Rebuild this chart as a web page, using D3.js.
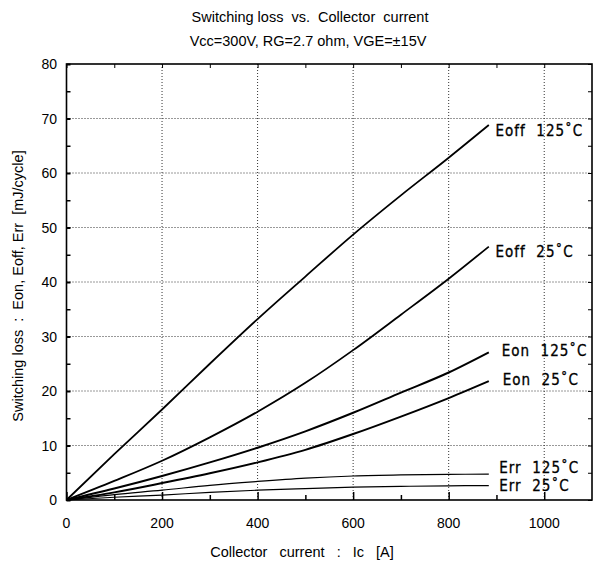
<!DOCTYPE html>
<html>
<head>
<meta charset="utf-8">
<script src="https://cdn.jsdelivr.net/npm/d3@7"></script>
<style>
  body { margin: 0; background: #fff; }
  svg { display: block; }
</style>
</head>
<body>
<svg id="chart" width="593" height="568"></svg>
<script>
// x values (collector current, A) shared by every curve
const current = [0, 100, 200, 300, 400, 500, 600, 700, 800, 884];

// switching loss, mJ/cycle
const eoff125 = [0, 8.4, 16.6, 25.0, 33.2, 41.0, 48.7, 55.9, 62.8, 68.8];
const eoff25  = [0, 3.5, 7.2, 11.5, 16.2, 21.5, 27.5, 34.0, 40.6, 46.5];
const eon125  = [0, 2.1, 4.4, 6.9, 9.6, 12.6, 16.0, 19.7, 23.4, 27.1];
const eon25   = [0, 1.4, 3.1, 4.9, 6.9, 9.2, 12.1, 15.3, 18.7, 21.8];
const err125  = [0, 1.0, 1.8, 2.7, 3.4, 4.0, 4.4, 4.6, 4.7, 4.75];
const err25   = [0, 0.5, 0.9, 1.4, 1.8, 2.1, 2.35, 2.5, 2.6, 2.65];

const series_names = ["Eoff 125", "Eoff 25", "Eon 125", "Eon 25", "Err 125", "Err 25"];
const series_values = [eoff125, eoff25, eon125, eon25, err125, err25];

const x_ticks = [0, 200, 400, 600, 800, 1000];
const y_ticks = [0, 10, 20, 30, 40, 50, 60, 70, 80];

const svg = d3.select("#chart");
const plot_left = 66.5, plot_right = 592, plot_top = 64, plot_bottom = 500;

const x = d3.scaleLinear().domain([0, 1100]).range([plot_left, plot_right]);
const y = d3.scaleLinear().domain([0, 80]).range([plot_bottom, plot_top]);

// titles
const font = "'Liberation Sans', Arial, sans-serif";
svg.append("text").attr("x", 310).attr("y", 22)
    .attr("text-anchor", "middle").attr("font-family", font).attr("font-size", "14.5px")
    .attr("xml:space", "preserve")
    .text("Switching loss  vs.  Collector  current");
svg.append("text").attr("x", 308).attr("y", 46)
    .attr("text-anchor", "middle").attr("font-family", font).attr("font-size", "14.5px")
    .text("Vcc=300V, RG=2.7 ohm, VGE=\u00b115V");

// dotted grid
const grid = svg.append("g")
    .attr("stroke", "#333").attr("stroke-width", 1).attr("stroke-dasharray", "1,2");
grid.selectAll("line.gy").data(y_ticks.filter(d => d > 0 && d < 80)).join("line")
    .attr("class", "gy")
    .attr("x1", plot_left).attr("x2", plot_right)
    .attr("y1", d => y(d)).attr("y2", d => y(d));
grid.selectAll("line.gx").data(x_ticks.filter(d => d > 0)).join("line")
    .attr("class", "gx")
    .attr("y1", plot_top).attr("y2", plot_bottom)
    .attr("x1", d => x(d)).attr("x2", d => x(d));

// axes with inward ticks
const ax_left = svg.append("g").attr("transform", `translate(${plot_left},0)`)
    .call(d3.axisRight(y).tickValues(d3.range(0, 81, 5)).tickSize(4).tickFormat(""));
ax_left.selectAll(".tick line").attr("stroke-width", d => d % 10 === 0 ? 2 : 1.5);
const ax_right = svg.append("g").attr("transform", `translate(${plot_right},0)`)
    .call(d3.axisLeft(y).tickValues(d3.range(0, 81, 5)).tickSize(4).tickFormat(""));
const ax_bottom = svg.append("g").attr("transform", `translate(0,${plot_bottom})`)
    .call(d3.axisTop(x).tickValues(d3.range(0, 1100, 100)).tickSize(5).tickFormat(""));
ax_bottom.selectAll(".tick line").attr("y2", d => d % 200 === 0 ? -8 : -5).attr("stroke-width", 1.5);
const ax_top = svg.append("g").attr("transform", `translate(0,${plot_top})`)
    .call(d3.axisBottom(x).tickValues(d3.range(0, 1100, 100)).tickSize(4).tickFormat(""));
[ax_left, ax_right, ax_bottom, ax_top].forEach(a => a.select(".domain").remove());

// frame
svg.append("rect").attr("x", plot_left).attr("y", plot_top)
    .attr("width", plot_right - plot_left).attr("height", plot_bottom - plot_top)
    .attr("fill", "none").attr("stroke", "#000").attr("stroke-width", 1.6);

// tick labels
svg.append("g").selectAll("text").data(y_ticks).join("text")
    .attr("x", 57).attr("y", d => y(d) + 5)
    .attr("text-anchor", "end").attr("font-family", font).attr("font-size", "14px")
    .text(d => d);
svg.append("g").selectAll("text").data(x_ticks).join("text")
    .attr("x", d => x(d)).attr("y", 528)
    .attr("text-anchor", "middle").attr("font-family", font).attr("font-size", "14px")
    .text(d => d);

// axis titles
svg.append("text").attr("x", 302).attr("y", 557)
    .attr("text-anchor", "middle").attr("font-family", font).attr("font-size", "14.5px")
    .attr("xml:space", "preserve").attr("word-spacing", "2px")
    .text("Collector  current  :  Ic  [A]");
svg.append("text")
    .attr("transform", "translate(23,286) rotate(-90)")
    .attr("text-anchor", "middle").attr("font-family", font).attr("font-size", "14.5px")
    .attr("xml:space", "preserve")
    .text("Switching loss  :  Eon, Eoff, Err  [mJ/cycle]");

// curves
const line = d3.line()
    .x((d, i) => x(current[i]))
    .y(d => y(d))
    .curve(d3.curveMonotoneX);
const widths = [1.8, 1.8, 2, 2, 1.2, 1.2];
svg.append("g").selectAll("path").data(series_values).join("path")
    .attr("d", line)
    .attr("fill", "none").attr("stroke", "#000")
    .attr("stroke-width", (d, i) => widths[i]);

// curve labels, placed in data coordinates
const label_x = [898, 898, 911, 913, 906, 906];
const label_y = [66.8, 44.6, 26.4, 21.1, 5.0, 1.6];
svg.append("g").selectAll("text").data(series_names).join("text")
    .attr("x", (d, i) => x(label_x[i])).attr("y", (d, i) => y(label_y[i]))
    .attr("font-family", "'DejaVu Sans Condensed', 'DejaVu Sans', sans-serif")
    .attr("font-size", "15px").attr("letter-spacing", "1px")
    .attr("stroke", "#000").attr("stroke-width", 0.3)
    .attr("xml:space", "preserve")
    .text(d => {
        const parts = d.split(" ");
        return parts[0] + "  " + parts[1] + "\u02DAC";
    });
</script>
</body>
</html>
